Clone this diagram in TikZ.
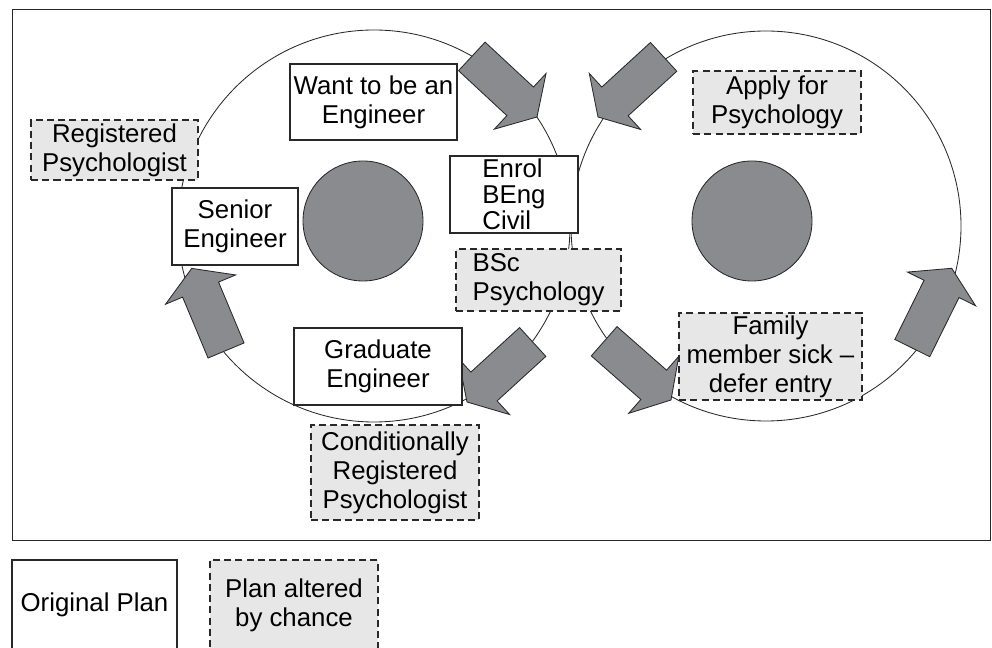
\documentclass[tikz,border=0pt]{standalone}
\usepackage{fontspec}
\setmainfont{Liberation Sans}

\definecolor{arrowgray}{RGB}{138,139,142}
\definecolor{chancegray}{RGB}{231,231,231}
\definecolor{linegray}{RGB}{40,40,40}

\begin{document}
\begin{tikzpicture}[font=\fontsize{18.35}{20.6}\selectfont,
		plan/.style={draw=linegray,line width=0.9pt,fill=white,inner sep=0pt,align=center},
		chance/.style={plan,dash pattern=on 5pt off 3pt,fill=chancegray},
		ring/.style={draw=linegray,line width=0.6pt},
		core/.style={draw=linegray,line width=0.6pt,fill=arrowgray},
		fatarrow/.pic={% tip sits at the origin, pointing along +x
			\draw[core,line join=miter] (-2.225,-0.4875) -- (-0.575,-0.4875) -- (-0.575,-0.95)
				-- (0,0) -- (-0.575,0.95) -- (-0.575,0.4875) -- (-2.225,0.4875) -- cycle;}]
		\useasboundingbox (0,0) rectangle (24.8,16.2);
		\draw[draw=linegray,line width=0.7pt] (0.3,2.7) rectangle (24.75,15.95);% frame

		% the two career cycles
		\draw[ring] (9.35,10.55) circle (4.9);
		\draw[ring] (19.15,10.55) circle (4.875);
		\draw[core] (9.075,10.675) circle (1.5);
		\draw[core] (18.8,10.675) circle (1.5);

		\pic[rotate=-42.9] at (13.425,13.275) {fatarrow};
		\pic[rotate=-137.5] at (14.95,13.275) {fatarrow};
		\pic[rotate=112.7] at (4.7925,9.49) {fatarrow};
		\pic[rotate=63.7] at (23.7925,9.4925) {fatarrow};
		\pic[rotate=-137.6] at (11.675,6.15) {fatarrow};
		\pic[rotate=-41.3] at (16.775,6.2) {fatarrow};

		% original plan
		\node[plan,minimum width=4.175cm,minimum height=1.9cm] (want) at (9.3375,13.65) {Want to be an\\Engineer};
		\node[plan,minimum width=3.2cm,minimum height=1.925cm,align=left,
			font=\fontsize{18.35}{18.3}\selectfont] (enrol) at (12.85,11.3375) {Enrol\\BEng\\Civil};
		\node[plan,minimum width=4.2cm,minimum height=1.925cm] (graduate) at (9.45,7.0375) {Graduate\\Engineer};
		\node[plan,minimum width=3.15cm,minimum height=1.925cm] (senior) at (5.875,10.5375) {Senior\\Engineer};

		% plan altered by chance
		\node[chance,minimum width=4.2cm,minimum height=1.575cm] (apply) at (19.425,13.6375) {Apply for\\Psychology};
		\node[chance,minimum width=4.125cm,minimum height=1.55cm,align=left] (bsc) at (13.4625,9.2) {BSc\\Psychology};
		\node[chance,minimum width=4.575cm,minimum height=2.175cm] (family) at (19.2625,7.2875) {Family\\member sick --\\defer entry};
		\node[chance,minimum width=4.2cm,minimum height=2.375cm] (condreg) at (9.875,4.3875) {Conditionally\\Registered\\Psychologist};
		\node[chance,minimum width=4.175cm,minimum height=1.5cm] (regpsy) at (2.8625,12.45) {Registered\\Psychologist};

		% key
		\node[plan,minimum width=4.125cm,minimum height=2.25cm] (keyplan) at (2.3625,1.075) {Original Plan};
		\node[chance,minimum width=4.2cm,minimum height=2.25cm] (keychance) at (7.35,1.075) {Plan altered\\by chance};
	\end{tikzpicture}
\end{document}
